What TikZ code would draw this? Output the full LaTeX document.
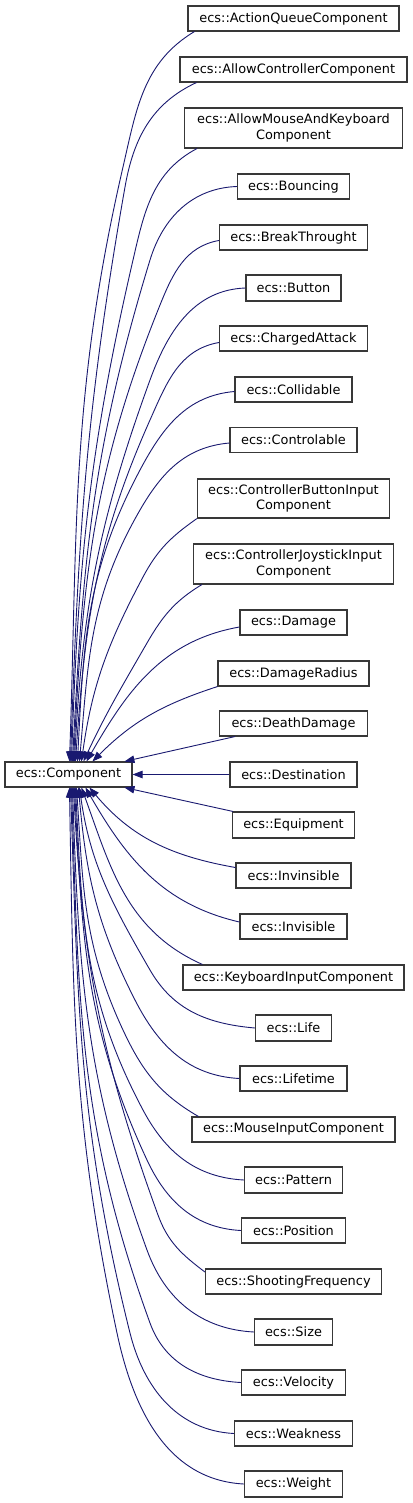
\documentclass[tikz,border=0pt]{standalone}
\usepackage{fontspec}
\newfontfamily\dejavu{DejaVu Sans}
\usetikzlibrary{arrows.meta}
\definecolor{edgeblue}{RGB}{25,25,112}
\definecolor{boxline}{RGB}{56,56,56}
\tikzset{
  cls/.style={draw=boxline, fill=white, line width=1.1pt, inner sep=0pt, align=center,
    font={\dejavu\fontsize{12.9pt}{15.5pt}\selectfont}},
  edge/.style={draw=edgeblue, line width=0.9pt, -{Triangle[length=10pt,width=7.5pt]}},
}
\begin{document}
\begin{tikzpicture}[x=1pt,y=1pt]
\path[use as bounding box, fill=white] (0,0) rectangle (412,-1503);
% base class
\node[cls, minimum width=127pt, minimum height=25pt] (comp) at (68.5,-774.5) {ecs::Component};
% derived classes
\node[cls, minimum width=211pt, minimum height=25pt] (aq) at (293.5,-18.5) {ecs::ActionQueueComponent};
\node[cls, minimum width=227pt, minimum height=25pt] (ac) at (293.5,-69.5) {ecs::AllowControllerComponent};
\node[cls, minimum width=218pt, minimum height=40pt] (am) at (293.5,-128) {ecs::AllowMouseAndKeyboard\\Component};
\node[cls, minimum width=112pt, minimum height=25pt] (bo) at (293.5,-186.5) {ecs::Bouncing};
\node[cls, minimum width=148pt, minimum height=25pt] (bt) at (293.5,-237.5) {ecs::BreakThrought};
\node[cls, minimum width=95pt, minimum height=26pt] (bu) at (293.5,-288) {ecs::Button};
\node[cls, minimum width=148pt, minimum height=25pt] (ca) at (293.5,-338.5) {ecs::ChargedAttack};
\node[cls, minimum width=117pt, minimum height=25pt] (co) at (293.5,-389.5) {ecs::Collidable};
\node[cls, minimum width=127pt, minimum height=25pt] (ct) at (293.5,-440) {ecs::Controlable};
\node[cls, minimum width=192pt, minimum height=39pt] (cb) at (293.5,-498.5) {ecs::ControllerButtonInput\\Component};
\node[cls, minimum width=200pt, minimum height=40pt] (cj) at (293.5,-564) {ecs::ControllerJoystickInput\\Component};
\node[cls, minimum width=107pt, minimum height=25pt] (da) at (293.5,-622.5) {ecs::Damage};
\node[cls, minimum width=151pt, minimum height=25pt] (dr) at (293.5,-673.5) {ecs::DamageRadius};
\node[cls, minimum width=148pt, minimum height=25pt] (dd) at (293.5,-723.5) {ecs::DeathDamage};
\node[cls, minimum width=127pt, minimum height=25pt] (de) at (293.5,-774.5) {ecs::Destination};
\node[cls, minimum width=122pt, minimum height=26pt] (eq) at (293.5,-825) {ecs::Equipment};
\node[cls, minimum width=115pt, minimum height=25pt] (iv) at (293.5,-875.5) {ecs::Invinsible};
\node[cls, minimum width=107pt, minimum height=25pt] (is) at (293.5,-926.5) {ecs::Invisible};
\node[cls, minimum width=221pt, minimum height=25pt] (kb) at (293.5,-977.5) {ecs::KeyboardInputComponent};
\node[cls, minimum width=76pt, minimum height=26pt] (li) at (293.5,-1028) {ecs::Life};
\node[cls, minimum width=107pt, minimum height=25pt] (lt) at (293.5,-1078.5) {ecs::Lifetime};
\node[cls, minimum width=203pt, minimum height=25pt] (mi) at (293.5,-1129.5) {ecs::MouseInputComponent};
\node[cls, minimum width=98pt, minimum height=26pt] (pa) at (293.5,-1180) {ecs::Pattern};
\node[cls, minimum width=104pt, minimum height=25pt] (po) at (293.5,-1230.5) {ecs::Position};
\node[cls, minimum width=176pt, minimum height=25pt] (sf) at (293.5,-1281.5) {ecs::ShootingFrequency};
\node[cls, minimum width=78pt, minimum height=26pt] (sz) at (293.5,-1332) {ecs::Size};
\node[cls, minimum width=104pt, minimum height=25pt] (ve) at (293.5,-1382.5) {ecs::Velocity};
\node[cls, minimum width=118pt, minimum height=25pt] (wk) at (293.5,-1433.5) {ecs::Weakness};
\node[cls, minimum width=98pt, minimum height=26pt] (wt) at (293.5,-1484) {ecs::Weight};
% edges above the base class
\draw[edge] ([xshift=7pt]aq.south west) to[out=211,in=77] (123,-167) to[out=257,in=88] ([xshift=65pt]comp.north west);
\draw[edge] ([xshift=17pt]ac.south west) to[out=205,in=80] (125,-187) to[out=260,in=88] ([xshift=66pt]comp.north west);
\draw[edge] ([xshift=13pt]am.south west) to[out=208,in=77] (133,-260) to[out=257,in=88] ([xshift=67pt]comp.north west);
\draw[edge] (bo.west) to[out=182,in=73] (150,-260) to[out=253,in=87] ([xshift=68pt]comp.north west);
\draw[edge] ([yshift=-3pt]bt.west) to[out=190,in=68] (160,-305) to[out=248,in=87] ([xshift=69pt]comp.north west);
\draw[edge] (bu.west) to[out=182,in=70] (150,-380) to[out=250,in=87] ([xshift=70pt]comp.north west);
\draw[edge] ([yshift=-4pt]ca.west) to[out=190,in=66] (150,-420) to[out=246,in=86] ([xshift=71pt]comp.north west);
\draw[edge] ([yshift=-2pt]co.west) to[out=185,in=62] (140,-470) to[out=242,in=87] ([xshift=73pt]comp.north west);
\draw[edge] ([yshift=-3pt]ct.west) to[out=185,in=60] (140,-510) to[out=240,in=85] ([xshift=75pt]comp.north west);
\draw[edge] (cb.south west) to[out=215,in=62] (143,-577) to[out=242,in=82] ([xshift=77pt]comp.north west);
\draw[edge] ([xshift=9pt]cj.south west) to[out=211,in=60] (147,-643) to[out=240,in=65] ([xshift=79pt]comp.north west);
\draw[edge] ([yshift=-4.5pt]da.west) to[out=190,in=60] ([xshift=82pt]comp.north west);
\draw[edge] (dr.south west) to[out=198,in=45] ([xshift=88pt]comp.north west);
\draw[edge] ([xshift=16pt]dd.south west) -- ([xshift=120pt]comp.north west);
\draw[edge] (de.west) -- (comp.east);
% edges below the base class
\draw[edge] ([xshift=1pt]eq.north west) -- ([xshift=120pt]comp.south west);
\draw[edge] ([yshift=8pt]iv.west) to[out=170,in=-50] ([xshift=85pt]comp.south west);
\draw[edge] ([yshift=4.5pt]is.west) to[out=167,in=-60] ([xshift=81pt]comp.south west);
\draw[edge] ([xshift=20pt]kb.north west) to[out=156,in=-70] ([xshift=77pt]comp.south west);
\draw[edge] (li.west) to[out=175,in=300] (150,-970) to[out=120,in=278] ([xshift=75pt]comp.south west);
\draw[edge] (lt.west) to[out=177,in=297] (135,-1000) to[out=117,in=275] ([xshift=74pt]comp.south west);
\draw[edge] ([xshift=7pt]mi.north west) to[out=150,in=295] (123,-1030) to[out=115,in=274] ([xshift=72pt]comp.south west);
\draw[edge] (pa.west) to[out=177,in=298] (143,-1110) to[out=118,in=273] ([xshift=71pt]comp.south west);
\draw[edge] (po.west) to[out=177,in=295] (147,-1160) to[out=115,in=273] ([xshift=70pt]comp.south west);
\draw[edge] ([yshift=9.5pt]sf.west) to[out=143,in=290] (158,-1215) to[out=110,in=273] ([xshift=69pt]comp.south west);
\draw[edge] (sz.west) to[out=177,in=290] (147,-1250) to[out=110,in=272] ([xshift=68pt]comp.south west);
\draw[edge] (ve.west) to[out=177,in=290] (150,-1323) to[out=110,in=272] ([xshift=67pt]comp.south west);
\draw[edge] (wk.west) to[out=177,in=284] (130,-1333) to[out=104,in=272] ([xshift=66pt]comp.south west);
\draw[edge] (wt.west) to[out=177,in=282] (117,-1333) to[out=102,in=271] ([xshift=65pt]comp.south west);
\end{tikzpicture}
\end{document}
